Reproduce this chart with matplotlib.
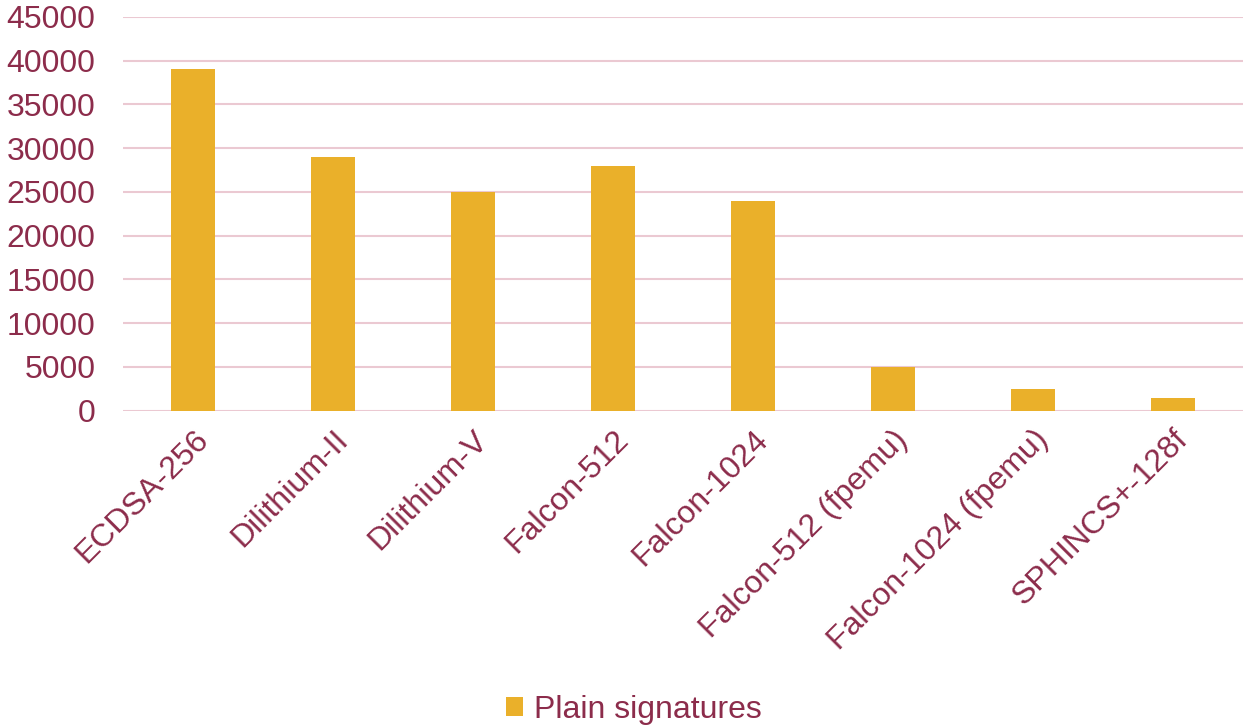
import matplotlib
matplotlib.use('Agg')
import matplotlib.pyplot as plt

schemes = ['ECDSA-256', 'Dilithium-II', 'Dilithium-V', 'Falcon-512', 'Falcon-1024',
           'Falcon-512 (fpemu)', 'Falcon-1024 (fpemu)', 'SPHINCS+-128f']
plain_signatures = [39000, 29000, 25000, 28000, 24000, 5000, 2500, 1500]
yticks = [0, 5000, 10000, 15000, 20000, 25000, 30000, 35000, 40000, 45000]

text_color = '#8C2C4B'
bar_color = '#EAB02A'
grid_color = '#EBC9D2'

plt.rcParams['font.family'] = ['Liberation Sans', 'DejaVu Sans']

fig = plt.figure(figsize=(12.43, 7.27), dpi=100)
ax = fig.add_axes([0.099, 0.435, 0.901, 0.542])

x = range(len(schemes))
ax.bar(x, plain_signatures, width=0.31, color=bar_color, label='Plain signatures', zorder=3)

ax.set_xlim(-0.5, len(schemes) - 0.5)
ax.set_ylim(0, 45000)
ax.set_yticks(yticks)
ax.set_yticklabels([str(v) for v in yticks])
ax.set_xticks(list(x))
ax.set_xticklabels(schemes, rotation=45, ha='right', rotation_mode='anchor')

ax.grid(axis='y', color=grid_color, linewidth=1.5, zorder=0)
for s in ax.spines.values():
    s.set_visible(False)
ax.tick_params(axis='both', length=0, labelsize=23, labelcolor=text_color)
ax.tick_params(axis='y', pad=20)
ax.tick_params(axis='x', pad=10)

leg = fig.legend(loc='lower center', bbox_to_anchor=(0.51, -0.037), frameon=False,
                 fontsize=23, handlelength=0.55, handleheight=0.55, handletextpad=0.35)
for t in leg.get_texts():
    t.set_color(text_color)

fig.savefig('out.png', dpi=100)
